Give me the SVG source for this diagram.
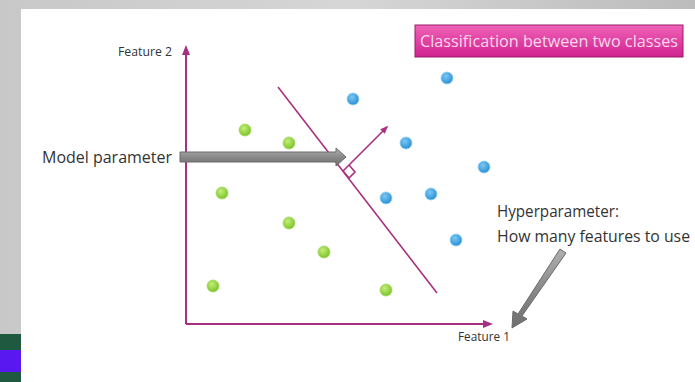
<svg xmlns="http://www.w3.org/2000/svg" width="695" height="382" viewBox="0 0 695 382">
<defs>
<linearGradient id="bg" x1="0" y1="0" x2="1" y2="0">
<stop offset="0" stop-color="#c8c8c8"/><stop offset="0.5" stop-color="#d6d6d6"/><stop offset="1" stop-color="#bcbcbc"/>
</linearGradient>
<radialGradient id="gDot" cx="0.4" cy="0.35" r="0.65">
<stop offset="0" stop-color="#c4ee7a"/><stop offset="1" stop-color="#7cc428"/>
</radialGradient>
<radialGradient id="bDot" cx="0.4" cy="0.35" r="0.65">
<stop offset="0" stop-color="#7cc8f2"/><stop offset="1" stop-color="#2a8fd6"/>
</radialGradient>
<linearGradient id="pink" x1="0" y1="0" x2="0" y2="1">
<stop offset="0" stop-color="#f062b8"/><stop offset="1" stop-color="#d0238f"/>
</linearGradient>
<linearGradient id="grayArrow" x1="0" y1="0" x2="0" y2="1">
<stop offset="0" stop-color="#b0b0b0"/><stop offset="0.5" stop-color="#8a8a8a"/><stop offset="1" stop-color="#6e6e6e"/>
</linearGradient>
<marker id="ah" viewBox="0 0 10 10" refX="8" refY="5" markerWidth="5" markerHeight="5" orient="auto">
<path d="M0,1 L10,5 L0,9 Z" fill="#a8317f"/>
</marker>
<style>
.ax{stroke:#a8317f;stroke-width:2;fill:none}
.ln{stroke:#a8317f;stroke-width:1.6;fill:none}
.t{font-family:"Open Sans","Liberation Sans",sans-serif;fill:#333}
.g{fill:url(#gDot);stroke:#9fd860;stroke-width:0.8}
.b{fill:url(#bDot);stroke:#8fd0f4;stroke-width:0.8}
.ga{fill:url(#grayArrow);stroke:#6a6a6a;stroke-width:1}
</style>
</defs>
<rect x="0" y="0" width="695" height="382" fill="url(#bg)"/>
<rect x="0" y="334" width="21" height="48" fill="#1f5a40"/>
<rect x="0" y="350" width="21" height="22" fill="#5a18f0"/>
<rect x="21" y="9" width="674" height="373" fill="#ffffff"/>

<g id="title">
<rect x="415" y="25" width="268" height="32" fill="url(#pink)" stroke="#9a1a6a" stroke-width="1"/>
<text x="420" y="47" class="t" style="fill:#f8d8ec;font-size:16px" textLength="258" lengthAdjust="spacingAndGlyphs">Classification between two classes</text>
</g>

<g id="axes">
<line class="ax" x1="186" y1="324" x2="186" y2="47" marker-end="url(#ah)"/>
<line class="ax" x1="186" y1="324" x2="491" y2="324" marker-end="url(#ah)"/>
<text x="118" y="56" class="t" style="font-size:12px" textLength="54" lengthAdjust="spacingAndGlyphs">Feature 2</text>
<text x="458" y="341" class="t" style="font-size:12px" textLength="52" lengthAdjust="spacingAndGlyphs">Feature 1</text>
</g>

<g id="green-class">
<circle class="g" cx="245" cy="130" r="6"/>
<circle class="g" cx="289" cy="143" r="6"/>
<circle class="g" cx="222" cy="193" r="6"/>
<circle class="g" cx="289" cy="223" r="6"/>
<circle class="g" cx="324" cy="252" r="6"/>
<circle class="g" cx="213" cy="286" r="6"/>
<circle class="g" cx="386" cy="290" r="6"/>
</g>

<g id="blue-class">
<circle class="b" cx="353" cy="99" r="6"/>
<circle class="b" cx="447" cy="78" r="6"/>
<circle class="b" cx="406" cy="143" r="6"/>
<circle class="b" cx="484" cy="167" r="6"/>
<circle class="b" cx="386" cy="198" r="6"/>
<circle class="b" cx="431" cy="194" r="6"/>
<circle class="b" cx="456" cy="240" r="6"/>
</g>

<g id="boundary">
<line class="ln" x1="278" y1="87" x2="437" y2="293"/>
<line class="ln" x1="343" y1="171" x2="387" y2="127" marker-end="url(#ah)"/>
<path class="ln" d="M349,165 L355,172 L349,178 L343,171"/>
</g>

<g id="model-parameter">
<text x="42" y="163" class="t" style="font-size:16px" textLength="130" lengthAdjust="spacingAndGlyphs">Model parameter</text>
<path class="ga" d="M180,152 L336,152 L336,148 L346,157 L336,166 L336,162 L180,162 Z"/>
</g>

<g id="hyperparameter">
<text x="497" y="217" class="t" style="font-size:16px" textLength="122" lengthAdjust="spacingAndGlyphs">Hyperparameter:</text>
<text x="497" y="242" class="t" style="font-size:16px" textLength="193" lengthAdjust="spacingAndGlyphs">How many features to use</text>
<path class="ga" d="M560,249 L566,253 L522,316 L527,319 L512,328 L513,311 L518,314 Z"/>
</g>
</svg>
